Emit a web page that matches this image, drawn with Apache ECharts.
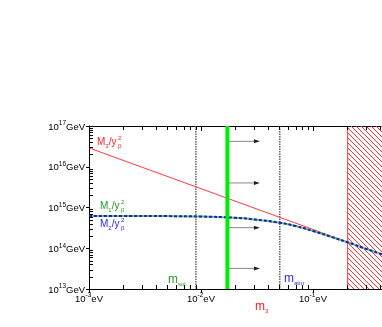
<!DOCTYPE html>
<html>
<head>
<meta charset="utf-8">
<script src="https://cdn.jsdelivr.net/npm/echarts@6/dist/echarts.min.js"></script>
<style>html,body{margin:0;padding:0;background:#fff}#c{width:382px;height:327px}</style>
</head>
<body>
<div id="c"></div>
<script>
// ---- data ----
var xRange = [0.001, 0.413];          // m3 in eV
var yRange = [1e13, 1e17];            // GeV
// M3 / y_beta^2 (red straight line)
var m3Line = [[0.001, 2.9e16], [0.413, 7.0e13]];
// M1 / y_beta^2 and M2 / y_beta^2 (overlapping curves)
var m2Curve = [[0.001, 6.2e14], [0.002, 6.2e14], [0.005, 6.15e14], [0.01, 6.0e14], [0.02, 5.6e14],
  [0.03, 5.1e14], [0.05, 4.25e14], [0.07, 3.5e14], [0.1, 2.65e14], [0.15, 1.85e14],
  [0.2, 1.42e14], [0.3, 0.96e14], [0.413, 0.71e14]];
var m1Curve = m2Curve;
var dottedLines = [0.009, 0.0505];     // m_sol, m_atm
var greenLine = [0.0172];
var excludedFrom = 0.204;
var arrowY = [4.2e16, 4.0e15, 3.2e14, 3.2e13];
var arrowEnd = 0.0336;

// minor tick positions (2..9 x 10^n)
var xMinorVals = [], yMinorVals = [];
for (var ex = -3; ex <= -1; ex++) for (var kx = 2; kx <= 9; kx++) { var vx = kx * Math.pow(10, ex); if (vx <= xRange[1]) xMinorVals.push(vx); }
for (var ey = 13; ey <= 16; ey++) for (var ky = 2; ky <= 9; ky++) yMinorVals.push(ky * Math.pow(10, ey));

var txtFont = 'Liberation Sans';
function xFmt(v){var e=Math.round(Math.log10(v));return '{b|10}{s|'+e+'}{b|eV}';}
function yFmt(v){var e=Math.round(Math.log10(v));return '{b|10}{s|'+e+'}{b|GeV}';}
var labRich = {
  b:{fontSize:9.5,fontFamily:txtFont,color:'#000',lineHeight:12,verticalAlign:'bottom'},
  s:{fontSize:6.5,fontFamily:txtFont,color:'#000',lineHeight:12,verticalAlign:'top'}
};

// hatch pattern
var pc = document.createElement('canvas');
var ps = 5; pc.width = ps; pc.height = ps;
var ctx = pc.getContext('2d');
ctx.strokeStyle = '#ff3030'; ctx.lineWidth = 1;
ctx.beginPath();
ctx.moveTo(0,0); ctx.lineTo(ps,ps);
ctx.moveTo(-ps,0); ctx.lineTo(ps,2*ps);
ctx.moveTo(0,-ps); ctx.lineTo(2*ps,ps);
ctx.stroke();

var chart = echarts.init(document.getElementById('c'), null, {renderer:'canvas'});

function vlineRender(style){
  return function(params, api){
    var cs = params.coordSys;
    var p = api.coord([api.value(0), yRange[0]]);
    return {type:'line', shape:{x1:p[0],y1:cs.y,x2:p[0],y2:cs.y+cs.height}, style:style};
  };
}
function xTickRender(params, api){
  var cs = params.coordSys;
  var p = api.coord([api.value(0), yRange[0]]);
  var x = Math.round(p[0]) + 0.5;
  var yb = cs.y + cs.height, yt = cs.y;
  return {type:'group', children:[
    {type:'line', shape:{x1:x,y1:yb,x2:x,y2:yb-4}, style:{stroke:'#000',lineWidth:1}},
    {type:'line', shape:{x1:x,y1:yt,x2:x,y2:yt+4}, style:{stroke:'#000',lineWidth:1}}
  ]};
}
function yTickRender(params, api){
  var cs = params.coordSys;
  var q = api.coord([0.02, api.value(0)]);
  var y = Math.round(q[1]) + 0.5;
  return {type:'line', shape:{x1:cs.x,y1:y,x2:cs.x+4,y2:y}, style:{stroke:'#000',lineWidth:1}};
}
function arrowRender(params, api){
  var a = api.coord([api.value(0), api.value(2)]);
  var b = api.coord([api.value(1), api.value(2)]);
  return {type:'group', children:[
    {type:'line', shape:{x1:a[0],y1:a[1],x2:b[0]-3,y2:b[1]}, style:{stroke:'#888',lineWidth:1}},
    {type:'polygon', shape:{points:[[b[0],b[1]],[b[0]-6,b[1]-2],[b[0]-6,b[1]+2]]}, style:{fill:'#222'}}
  ]};
}
function hatchRender(params, api){
  var cs = params.coordSys;
  var p = api.coord([api.value(0), yRange[0]]);
  return {type:'group', children:[
    {type:'rect', shape:{x:p[0], y:cs.y, width:cs.x+cs.width-p[0], height:cs.height}, style:{fill:{image:pc, repeat:'repeat'}}},
    {type:'line', shape:{x1:p[0],y1:cs.y,x2:p[0],y2:cs.y+cs.height}, style:{stroke:'#ff3030',lineWidth:1}}
  ]};
}

var arrowData = arrowY.map(function(y){return [greenLine[0], arrowEnd, y];});

function richLab(x, y, base, sub, color, big){
  var fs = big ? 12 : 10;
  return {type:'text', left:x, top:y, z:100, style:{text:'{m|'+base+'}{d|'+sub+'}', rich:{
    m:{fontSize:fs,fontFamily:txtFont,fill:color,lineHeight:fs+1,verticalAlign:'top'},
    d:{fontSize:6,fontFamily:txtFont,fill:color,lineHeight:fs+1,verticalAlign:'bottom'}}}};
}
function mLab(x, y, idx, color){
  return [
    {type:'text', left:x, top:y, z:100, style:{text:'{m|M}{d|'+idx+'}{m|/y}', rich:{
      m:{fontSize:10,fontFamily:txtFont,fill:color,lineHeight:12,verticalAlign:'top'},
      d:{fontSize:6,fontFamily:txtFont,fill:color,lineHeight:12,verticalAlign:'bottom'}}}},
    {type:'text', left:x+21, top:y-2, z:100, style:{text:'2', font:'6px '+txtFont, fill:color}},
    {type:'text', left:x+21, top:y+6, z:100, style:{text:'β', font:'6px '+txtFont, fill:color}}
  ];
}

var option = {
  animation:false,
  backgroundColor:'#fff',
  grid:{left:89, top:126, right:0, bottom:38, containLabel:false},
  xAxis:[{
    type:'log', logBase:10, min:xRange[0], max:xRange[1], position:'bottom',
    axisLine:{show:true,lineStyle:{color:'#000',width:1}},
    axisTick:{show:true,inside:false,length:4,lineStyle:{color:'#000'}},
    axisLabel:{show:true,margin:3,formatter:xFmt,rich:labRich,showMaxLabel:false},
    splitLine:{show:false}
  },{
    type:'log', logBase:10, min:xRange[0], max:xRange[1], position:'top',
    axisLine:{show:true,lineStyle:{color:'#000',width:1}},
    axisTick:{show:true,inside:true,length:5,lineStyle:{color:'#000'}},
    axisLabel:{show:false}, splitLine:{show:false}
  }],
  yAxis:[{
    type:'log', logBase:10, min:yRange[0], max:yRange[1],
    axisLine:{show:true,lineStyle:{color:'#000',width:1}},
    axisTick:{show:true,inside:false,length:3,lineStyle:{color:'#000'}},
    axisLabel:{show:true,margin:4,formatter:yFmt,rich:labRich},
    splitLine:{show:false}
  }],
  series:[
    {type:'custom', data:[[excludedFrom]], renderItem:hatchRender, clip:true, silent:true, z:1},
    {type:'custom', data:dottedLines.map(function(v){return [v];}), renderItem:vlineRender({stroke:'#666',lineWidth:1.5,lineDash:[1.5,1]}), clip:true, silent:true, z:2},
    {type:'custom', data:arrowData, renderItem:arrowRender, clip:true, silent:true, z:2},
    {name:'M3', type:'line', data:m3Line, showSymbol:false, lineStyle:{color:'#ff3a3a',width:1}, z:3},
    {name:'M1', type:'line', data:m1Curve, smooth:true, showSymbol:false, lineStyle:{color:'#66cc66',width:2}, z:4},
    {name:'M2', type:'line', data:m2Curve, smooth:true, showSymbol:false, lineStyle:{color:'#1a1acc',width:2,type:[3,2]}, z:5},
    {type:'custom', data:greenLine.map(function(v){return [v];}), renderItem:vlineRender({stroke:'#00ee00',lineWidth:4}), clip:true, silent:true, z:6},
    {type:'custom', data:xMinorVals.map(function(v){return [v];}), renderItem:xTickRender, clip:true, silent:true, z:7},
    {type:'custom', data:yMinorVals.map(function(v){return [v];}), renderItem:yTickRender, clip:true, silent:true, z:7}
  ],
  graphic:[].concat(
    mLab(97, 137, '3', '#ff2020'),
    mLab(100, 201, '1', '#229922'),
    mLab(100, 219, '2', '#2a2aee'),
    [richLab(168, 274, 'm', 'sol', '#229922', true),
     richLab(284, 273, 'm', 'atm', '#2a2aee', true),
     richLab(255, 301, 'm', '3', '#ff2020', true)]
  )
};
chart.setOption(option);
</script>
</body>
</html>
